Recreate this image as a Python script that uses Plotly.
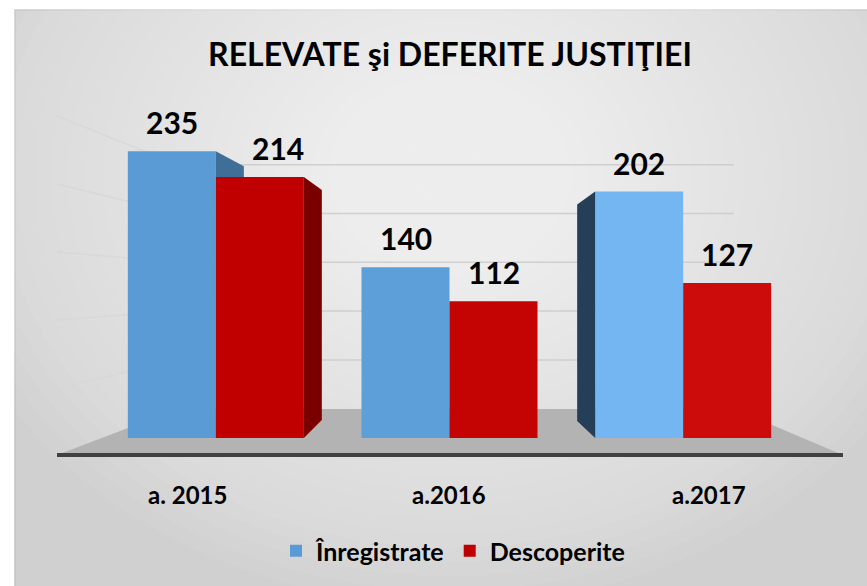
import plotly.graph_objects as go

# ---- data ----
categories = ["a. 2015", "a.2016", "a.2017"]
inregistrate = [235, 140, 202]
descoperite = [214, 112, 127]
series_names = ["Înregistrate", "Descoperite"]
title_text = "RELEVATE şi DEFERITE JUSTIŢIEI"

# ---- style ----
FONT = "Lato, Carlito, Calibri, sans-serif"
blue_cols = ["#5b9bd5", "#5d9fd9", "#74b6f2"]
red_cols = ["#c00000", "#c40303", "#cc0b0b"]
cat_label_shift = [-28, -1, 26]          # perspective offsets of category labels (px)
red_label_shift = [18, 0, 0]             # perspective offsets of value labels (px)
W, H = 867, 586
L, R, T, B = 99, 800, 133, 438          # plot area in pixels
YMAX = 250
xs = list(range(len(categories)))
BARW = 88 / (R - L) * 3                 # bar width in category units
ux = (R - L) / 3.0                      # px per category unit
uy = (B - T) / YMAX                     # px per value unit


def px(x):
    return (x - L) / (R - L)


def py(y):
    return (B - y) / (B - T)


shapes = []
# chart area background
shapes.append(dict(type="rect", xref="paper", yref="paper", layer="below",
                   x0=px(15), x1=px(W + 5), y0=py(H + 5), y1=py(10),
                   fillcolor="#d0d0d0", line=dict(color="#c2c2c2", width=1.5)))
# radial gradient approximated by stacked translucent ellipses
N = 30
cx, cy = 450, 175
for k in range(N):
    f = 1 - k / N
    rx, ry = 520 * f, 430 * f
    shapes.append(dict(type="circle", xref="paper", yref="paper", layer="below",
                       x0=px(cx - rx), x1=px(cx + rx), y0=py(cy + ry), y1=py(cy - ry),
                       fillcolor="rgba(255,255,255,0.05)", line=dict(width=0)))

# floor
floor_path = "M {} {} L {} {} L {} {} L {} {} Z".format(
    px(57), py(455), px(178), py(409), px(734), py(409), px(843), py(455))
shapes.append(dict(type="path", xref="paper", yref="paper", layer="below",
                   path=floor_path, fillcolor="#b3b3b3", line=dict(width=0)))

# grid lines (back wall + left wall perspective)
grid_vals = [64, 104, 144, 184, 224]
for v in grid_vals:
    yb = B - v * uy
    yf = 456 - (v - 24) / 40 * 68
    shapes.append(dict(type="line", xref="paper", yref="paper", layer="below",
                       x0=px(178), x1=px(734), y0=py(yb), y1=py(yb),
                       line=dict(color="rgba(200,200,200,0.8)", width=1.5)))
    shapes.append(dict(type="line", xref="paper", yref="paper", layer="below",
                       x0=px(57), x1=px(178), y0=py(yf), y1=py(yb),
                       line=dict(color="rgba(215,215,215,0.8)", width=1.5)))

# front edge of floor
shapes.append(dict(type="line", xref="paper", yref="paper", layer="above",
                   x0=px(57), x1=px(843), y0=py(455), y1=py(455),
                   line=dict(color="#404040", width=4)))

fig = go.Figure()
fig.add_trace(go.Bar(x=xs, y=inregistrate, name="<b>%s</b>" % series_names[0],
                     marker=dict(color=blue_cols, line=dict(width=0))))
fig.add_trace(go.Bar(x=xs, y=descoperite, name="<b>%s</b>" % series_names[1],
                     marker=dict(color=red_cols, line=dict(width=0))))

# 3D side faces derived from the data values
d1 = 28 / ux
s1 = 15 / uy
fig.add_trace(go.Scatter(
    x=[xs[0], xs[0] + d1, xs[0] + d1, xs[0]],
    y=[inregistrate[0], inregistrate[0] - s1, descoperite[0], descoperite[0]],
    fill="toself", mode="none", fillcolor="#3f6f96", showlegend=False, hoverinfo="skip"))
d2 = 18 / ux
s2 = 13 / uy
xr = xs[0] + BARW
fig.add_trace(go.Scatter(
    x=[xr, xr + d2, xr + d2, xr],
    y=[descoperite[0], descoperite[0] - s2, 18 / uy, 0],
    fill="toself", mode="none", fillcolor="#7a0000", showlegend=False, hoverinfo="skip"))
xl = xs[2] - BARW
fig.add_trace(go.Scatter(
    x=[xl, xl - d2, xl - d2, xl],
    y=[inregistrate[2], inregistrate[2] - s2, 17 / uy, 0],
    fill="toself", mode="none", fillcolor="#243f57", showlegend=False, hoverinfo="skip"))

# value labels
annotations = []
for i in xs:
    annotations.append(dict(x=i - BARW / 2, y=inregistrate[i], text="<b>%d</b>" % inregistrate[i],
                            showarrow=False, yshift=29, yanchor="middle",
                            font=dict(family=FONT, size=30, color="#000")))
    annotations.append(dict(x=i + BARW / 2, y=descoperite[i], text="<b>%d</b>" % descoperite[i],
                            showarrow=False, yshift=29, xshift=red_label_shift[i], yanchor="middle",
                            font=dict(family=FONT, size=30, color="#000")))
# category labels
for i, c in enumerate(categories):
    annotations.append(dict(x=i, xref="x", y=py(494), yref="paper", text="<b>%s</b>" % c,
                            showarrow=False, xshift=cat_label_shift[i], yanchor="middle",
                            font=dict(family=FONT, size=24, color="#000")))

fig.update_layout(
    width=W, height=H,
    margin=dict(l=L, r=W - R, t=T, b=H - B, pad=0),
    paper_bgcolor="#ffffff", plot_bgcolor="rgba(0,0,0,0)",
    barmode="group", bargap=1 - 2 * BARW, bargroupgap=0,
    title=dict(text="<b>" + title_text + "</b>", x=450 / W, xanchor="center",
               y=1 - 55 / H, yanchor="middle", yref="container",
               font=dict(family=FONT, size=32, color="#000")),
    xaxis=dict(range=[-0.5, 2.5], tickvals=xs, showticklabels=False,
               showgrid=False, zeroline=False, showline=False, ticks=""),
    yaxis=dict(range=[0, YMAX], showgrid=False, zeroline=False, showline=False,
               showticklabels=False, ticks=""),
    legend=dict(orientation="h", x=px(453), xanchor="center", y=1 - 551 / H,
                yref="container", yanchor="middle",
                font=dict(family=FONT, size=25, color="#000"),
                bgcolor="rgba(0,0,0,0)", itemwidth=30, traceorder="normal"),
    shapes=shapes, annotations=annotations, showlegend=True,
)
fig.update_traces(cliponaxis=False, selector=dict(type="bar"))
fig.update_traces(cliponaxis=False, selector=dict(type="scatter"))

fig.write_html("out.html", config={"displayModeBar": False},
               post_script="document.body.style.margin='0';document.body.style.overflow='hidden';")
